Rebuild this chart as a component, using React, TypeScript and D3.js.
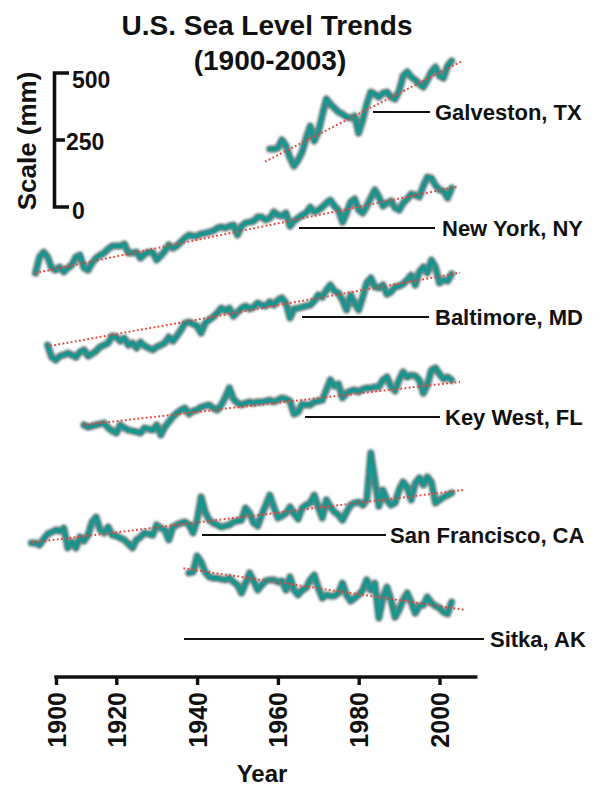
import React, { useEffect, useRef } from "react";
import * as d3 from "d3";

// ---- Data (relative sea level, mm; annual means) ----
const stationNames = ["Galveston, TX", "New York, NY", "Baltimore, MD", "Key West, FL", "San Francisco, CA", "Sitka, AK"];

const galvestonStart = 1958;
const galvestonMm = [78, 78, 82, 112, 90, 45, 15, 37, 67, 119, 164, 108, 142, 205, 265, 246, 231, 216, 209, 198, 194, 201, 138, 187, 246, 291, 283, 272, 287, 291, 272, 265, 295, 351, 366, 347, 336, 321, 310, 336, 366, 384, 351, 343, 388, 407];
const galvestonTrend = [[1956.8, 31], [2005.8, 408]];

const newYorkStart = 1900;
const newYorkMm = [26, 86, 104, 86, 45, 37, 48, 30, 45, 56, 86, 93, 45, 37, 63, 82, 93, 101, 116, 127, 127, 127, 134, 101, 101, 104, 82, 97, 104, 104, 75, 90, 108, 131, 119, 127, 142, 157, 168, 164, 164, 172, 175, 179, 183, 194, 198, 194, 201, 205, 168, 201, 213, 216, 220, 235, 235, 224, 231, 254, 242, 239, 250, 201, 220, 231, 242, 250, 272, 254, 261, 272, 287, 298, 276, 261, 216, 250, 291, 302, 261, 250, 276, 306, 336, 310, 276, 287, 295, 269, 261, 287, 302, 321, 317, 310, 351, 384, 380, 354, 336, 332, 306, 343];
const newYorkTrend = [[1899.9, 26], [2004.3, 348]];

const baltimoreStart = 1903;
const baltimoreMm = [93, 48, 37, 52, 56, 63, 56, 48, 67, 75, 52, 60, 71, 86, 93, 101, 127, 123, 108, 119, 93, 101, 82, 104, 90, 82, 75, 86, 93, 101, 123, 108, 127, 149, 175, 179, 172, 164, 138, 175, 187, 198, 213, 231, 220, 231, 201, 216, 231, 239, 228, 235, 250, 242, 239, 254, 242, 261, 269, 250, 194, 228, 231, 235, 239, 242, 257, 280, 272, 298, 317, 295, 287, 261, 224, 280, 250, 224, 272, 325, 343, 310, 306, 317, 283, 291, 310, 313, 321, 336, 354, 317, 366, 384, 362, 410, 384, 325, 336, 332, 358];
const baltimoreTrend = [[1903.6, 90], [2005.1, 363]];

const keyWestStart = 1912;
const keyWestMm = [56, 48, 52, 56, 60, 63, 45, 34, 26, 56, 45, 37, 34, 30, 26, 45, 41, 37, 56, 19, 48, 67, 86, 101, 112, 119, 97, 108, 112, 123, 127, 131, 119, 112, 131, 160, 194, 153, 138, 131, 138, 142, 138, 142, 142, 145, 149, 142, 149, 157, 153, 145, 97, 104, 134, 131, 131, 142, 145, 149, 187, 224, 201, 209, 157, 175, 183, 187, 179, 190, 194, 194, 198, 198, 224, 235, 198, 183, 224, 254, 235, 242, 239, 224, 175, 205, 261, 269, 246, 228, 235, 224];
const keyWestTrend = [[1911.8, 56], [2005.1, 217]];

const sanFranciscoStart = 1899;
const sanFranciscoMm = [63, 63, 56, 78, 97, 104, 112, 108, 119, 45, 67, 45, 86, 71, 93, 142, 160, 112, 101, 123, 93, 90, 82, 75, 60, 45, 75, 86, 101, 97, 93, 131, 119, 112, 75, 123, 131, 138, 142, 131, 101, 149, 235, 179, 149, 138, 131, 123, 127, 131, 142, 145, 149, 194, 175, 138, 127, 168, 205, 242, 198, 157, 164, 175, 198, 172, 153, 194, 205, 213, 242, 198, 157, 224, 198, 179, 168, 149, 179, 205, 213, 216, 205, 224, 399, 298, 201, 261, 224, 205, 213, 261, 291, 272, 224, 287, 306, 280, 310, 291, 213, 224, 235, 242, 250];
const sanFranciscoTrend = [[1899.1, 65], [2005.9, 261]];

const sitkaStart = 1938;
const sitkaMm = [213, 216, 276, 254, 216, 198, 194, 194, 190, 187, 194, 179, 168, 138, 175, 213, 183, 149, 168, 183, 187, 187, 179, 183, 149, 198, 149, 131, 149, 157, 187, 205, 157, 119, 131, 127, 127, 138, 175, 131, 108, 119, 131, 149, 187, 149, 175, 45, 119, 160, 112, 48, 75, 112, 138, 104, 63, 90, 93, 123, 101, 90, 82, 67, 60, 104];
const sitkaTrend = [[1936.6, 230], [2006.3, 75]];

const yearTicks = [1900, 1920, 1940, 1960, 1980, 2000];
const scaleTicks = [0, 250, 500];

// ---- Layout ----
const W = 602;
const H = 787;
const FONT = "'Liberation Sans', Arial, Helvetica, sans-serif";

export default function App() {
  const ref = useRef<SVGSVGElement>(null);

  useEffect(() => {
    const svg = d3.select(ref.current);
    svg.selectAll("*").remove();

    const x = d3.scaleLinear().domain([1900, 2003]).range([35.5, 451.6]);
    const mm = d3.scaleLinear().domain([0, 500]).range([207, 73]);

    const stations = [
      { name: stationNames[0], start: galvestonStart, values: galvestonMm, trend: galvestonTrend, base: 170, lineFrom: 373, lineTo: 430, labelX: 435, labelY: 112 },
      { name: stationNames[1], start: newYorkStart, values: newYorkMm, trend: newYorkTrend, base: 280, lineFrom: 299, lineTo: 435, labelX: 442, labelY: 228 },
      { name: stationNames[2], start: baltimoreStart, values: baltimoreMm, trend: baltimoreTrend, base: 370, lineFrom: 302, lineTo: 429, labelX: 435, labelY: 317 },
      { name: stationNames[3], start: keyWestStart, values: keyWestMm, trend: keyWestTrend, base: 440, lineFrom: 305, lineTo: 440, labelX: 445, labelY: 417 },
      { name: stationNames[4], start: sanFranciscoStart, values: sanFranciscoMm, trend: sanFranciscoTrend, base: 560, lineFrom: 202, lineTo: 386, labelX: 390, labelY: 535 },
      { name: stationNames[5], start: sitkaStart, values: sitkaMm, trend: sitkaTrend, base: 630, lineFrom: 184, lineTo: 484, labelX: 490, labelY: 639 },
    ];

    const defs = svg.append("defs");
    defs
      .append("filter")
      .attr("id", "halo")
      .attr("x", "-5%")
      .attr("y", "-20%")
      .attr("width", "110%")
      .attr("height", "140%")
      .append("feGaussianBlur")
      .attr("stdDeviation", 1.2);

    svg.append("rect").attr("width", W).attr("height", H).attr("fill", "#fff");

    // Title
    const title = svg.append("g").attr("font-family", FONT).attr("font-weight", "bold").attr("fill", "#111").attr("text-anchor", "middle");
    title.append("text").attr("x", 267).attr("y", 35).attr("font-size", 28).text("U.S. Sea Level Trends");
    title.append("text").attr("x", 270).attr("y", 70).attr("font-size", 28).text("(1900-2003)");

    // Scale bar
    const sb = svg.append("g").attr("stroke", "#111").attr("stroke-width", 3.6).attr("fill", "none");
    sb.append("path").attr("d", `M69,${mm(500)}H54.5V${mm(0)}H69`).attr("stroke-linejoin", "miter");
    sb.append("path").attr("d", `M54.5,${mm(250)}H65`);
    const sbl = svg.append("g").attr("font-family", FONT).attr("font-weight", "bold").attr("font-size", 23).attr("fill", "#111");
    const labelDy: Record<number, number> = { 500: 7, 250: 2, 0: 4 };
    const labelDx: Record<number, number> = { 500: 72, 250: 66, 0: 72 };
    scaleTicks.forEach((t) => {
      sbl
        .append("text")
        .attr("x", labelDx[t])
        .attr("y", mm(t) + labelDy[t])
        .attr("dy", "0.36em")
        .text(String(t));
    });
    svg
      .append("text")
      .attr("transform", `translate(36,141) rotate(-90)`)
      .attr("text-anchor", "middle")
      .attr("font-family", FONT)
      .attr("font-weight", "bold")
      .attr("font-size", 26)
      .attr("fill", "#111")
      .text("Scale (mm)");

    // Station series
    stations.forEach((s) => {
      const shift = s.base - mm(0);
      const pts = s.values.map((v, i) => [s.start + i, v] as [number, number]);
      const line = d3
        .line<[number, number]>()
        .x((d) => x(d[0]))
        .y((d) => mm(d[1]) + shift);

      const g = svg.append("g");
      g.append("line")
        .attr("x1", s.lineFrom)
        .attr("x2", s.lineTo)
        .attr("y1", s.labelY)
        .attr("y2", s.labelY)
        .attr("stroke", "#111")
        .attr("stroke-width", 2);
      g.append("text")
        .attr("x", s.labelX)
        .attr("y", s.labelY)
        .attr("dy", "0.36em")
        .attr("font-family", FONT)
        .attr("font-weight", "bold")
        .attr("font-size", 22)
        .attr("fill", "#111")
        .text(s.name);

      g.append("path")
        .attr("d", line(pts) || "")
        .attr("fill", "none")
        .attr("stroke", "#3b6462")
        .attr("stroke-opacity", 0.8)
        .attr("stroke-width", 7.5)
        .attr("stroke-linejoin", "round")
        .attr("stroke-linecap", "round")
        .attr("filter", "url(#halo)");
      g.append("path")
        .attr("d", line(pts) || "")
        .attr("fill", "none")
        .attr("stroke", "#17958e")
        .attr("stroke-width", 3.8)
        .attr("stroke-linejoin", "round")
        .attr("stroke-linecap", "round");
      g.append("path")
        .attr("d", line(s.trend as [number, number][]) || "")
        .attr("fill", "none")
        .attr("stroke", "#e5463c")
        .attr("stroke-width", 2)
        .attr("stroke-dasharray", "1.8 2.4");
    });

    // Year axis
    const axisEnd = 2009.4;
    const tickScale = d3.scaleLinear().domain([1900, 1920, axisEnd]).range([56, x(1920), x(axisEnd)]);
    const axis = d3.axisBottom(tickScale).tickValues(yearTicks).tickFormat(d3.format("d")).tickSize(8).tickSizeOuter(0);
    const ag = svg.append("g").attr("transform", "translate(0,677)").call(axis);
    ag.select(".domain").attr("stroke", "#111").attr("stroke-width", 3.4).attr("d", `M${tickScale(1900) - 1.7},0H${x(axisEnd)}`);
    ag.selectAll(".tick line").attr("stroke", "#111").attr("stroke-width", 3.4);
    ag.selectAll(".tick text")
      .attr("transform", "rotate(-90)")
      .attr("x", -15)
      .attr("y", 0)
      .attr("dy", "0.36em")
      .attr("text-anchor", "end")
      .attr("font-family", FONT)
      .attr("font-weight", "bold")
      .attr("font-size", 25)
      .attr("fill", "#111");

    svg
      .append("text")
      .attr("x", 262)
      .attr("y", 782)
      .attr("text-anchor", "middle")
      .attr("font-family", FONT)
      .attr("font-weight", "bold")
      .attr("font-size", 24)
      .attr("fill", "#111")
      .text("Year");
  }, []);

  return <svg ref={ref} width={W} height={H} style={{ position: "absolute", left: 0, top: 0, display: "block" }} />;
}
